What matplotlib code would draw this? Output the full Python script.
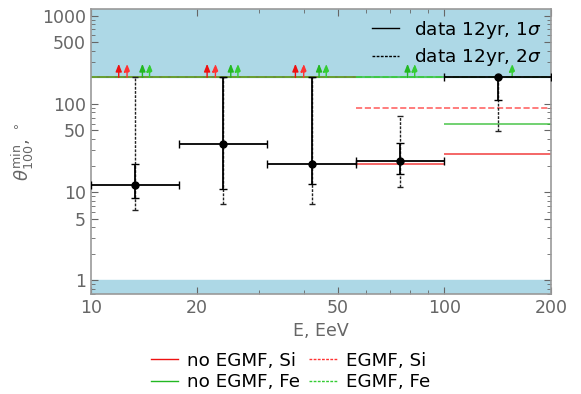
import numpy as np
import matplotlib
matplotlib.use('Agg')
from matplotlib import pyplot as plt

# energy bins, EeV (quarter-decade edges + last bin to 200)
bin_lo = [10.0, 17.8, 31.6, 56.2, 100.0]
bin_hi = [17.8, 31.6, 56.2, 100.0, 200.0]

# data 12yr: theta_min and 1 sigma / 2 sigma ranges, degrees
theta = [12.0, 34.7, 21.0, 22.4, 200.0]
sig1_lo = [8.5, 10.9, 12.4, 15.9, 110.0]
sig1_hi = [21.0, 200.0, 200.0, 35.9, 200.0]
sig2_lo = [6.2, 7.4, 7.4, 11.4, 48.7]
sig2_hi = [200.0, 200.0, 200.0, 72.6, 200.0]

# model predictions per bin (200 = lower limit at the ceiling)
noegmf_si = [200.0, 200.0, 200.0, 21.0, 27.2]
egmf_si = [200.0, 200.0, 200.0, 90.8, 90.8]
noegmf_fe = [200.0, 200.0, 200.0, 200.0, 58.5]
egmf_fe = [200.0, 200.0, 200.0, 200.0, 200.0]

ceiling = 200.0
ymin, ymax = 0.7, 1180.0

grey = '#666666'
red = '#ee1111'
red2 = '#ff3333'
green = '#22b822'
green2 = '#33cc33'

fig = plt.figure(figsize=(5.81, 3.94), dpi=100)
ax = fig.add_axes([0.156, 0.254, 0.792, 0.722])
ax.set_xscale('log')
ax.set_yscale('log')

# excluded regions
ax.axhspan(ceiling, ymax, color='#add8e6', zorder=0)
ax.axhspan(ymin, 1.0, color='#add8e6', zorder=0)

lo = np.array(bin_lo)
hi = np.array(bin_hi)
xc = np.sqrt(lo * hi)

models = [(noegmf_si, red, '-', 'no EGMF, Si', 0.9),
          (noegmf_fe, green, '-', 'no EGMF, Fe', 1.05),
          (egmf_si, red2, '--', 'EGMF, Si', 0.95),
          (egmf_fe, green2, '--', 'EGMF, Fe', 1.1)]

handles = []
for vals, col, ls, lab, shift in models:
    ax.hlines(vals, lo, hi, colors=col, linestyles=ls, lw=1.2,
              alpha=0.75, zorder=2)
    handles.append(plt.Line2D([], [], color=col, ls=ls, lw=1.0,
                              dashes=(2, 1) if ls == '--' else (None, None),
                              label=lab))
    for x, v in zip(xc, vals):
        if v >= ceiling:
            ax.annotate('', xy=(x * shift, 285), xytext=(x * shift, ceiling),
                        arrowprops=dict(arrowstyle='-|>,head_width=0.18,head_length=0.45',
                                        color=col, lw=1.0, ls=ls,
                                        shrinkA=0, shrinkB=0),
                        zorder=3)

th = np.array(theta)
# 2 sigma (dashed)
e2 = ax.errorbar(xc, th, yerr=[th - np.array(sig2_lo), np.array(sig2_hi) - th],
                 fmt='none', ecolor='#222222', elinewidth=1.0, capsize=2,
                 capthick=1.0, zorder=4)
e2[2][0].set_linestyle((0, (2, 1)))
# 1 sigma (solid)
ax.errorbar(xc, th, xerr=[xc - lo, hi - xc],
            yerr=[th - np.array(sig1_lo), np.array(sig1_hi) - th],
            fmt='o', color='k', ms=5, elinewidth=1.3, capsize=3,
            capthick=1.0, zorder=5)

ax.set_xlim(10, 200)
ax.set_ylim(ymin, ymax)
ax.set_xticks([10, 20, 50, 100, 200])
ax.set_xticklabels(['10', '20', '50', '100', '200'])
ax.set_yticks([1, 5, 10, 50, 100, 500, 1000])
ax.set_yticklabels(['1', '5', '10', '50', '100', '500', '1000'])
ax.tick_params(which='both', direction='in', top=True, right=True,
               colors=grey, labelsize=12.5, labelcolor=grey)
ax.tick_params(which='major', length=5)
ax.tick_params(which='minor', length=3)
for sp in ax.spines.values():
    sp.set_color('#999999')
    sp.set_linewidth(1.2)

ax.set_xlabel('E, EeV', color=grey, fontsize=12.5)
ax.set_ylabel(r'$\theta_{100}^{\rm min}$, $^\circ$', color=grey, fontsize=13)

data_h = [plt.Line2D([], [], color='k', lw=1.0, label=r'data 12yr, 1$\sigma$'),
          plt.Line2D([], [], color='k', lw=1.0, dashes=(2, 1),
                     label=r'data 12yr, 2$\sigma$')]
ax.legend(handles=data_h, loc='upper right', frameon=False, fontsize=13.3,
          handlelength=1.5, borderaxespad=0.1, labelspacing=0.3)

fig.legend(handles=handles, loc='lower center', bbox_to_anchor=(0.5, -0.035),
           ncol=2, frameon=False, fontsize=13.2, handlelength=1.5,
           columnspacing=0.5, labelspacing=0.2, handletextpad=0.5)

plt.savefig('out.png', dpi=100)
